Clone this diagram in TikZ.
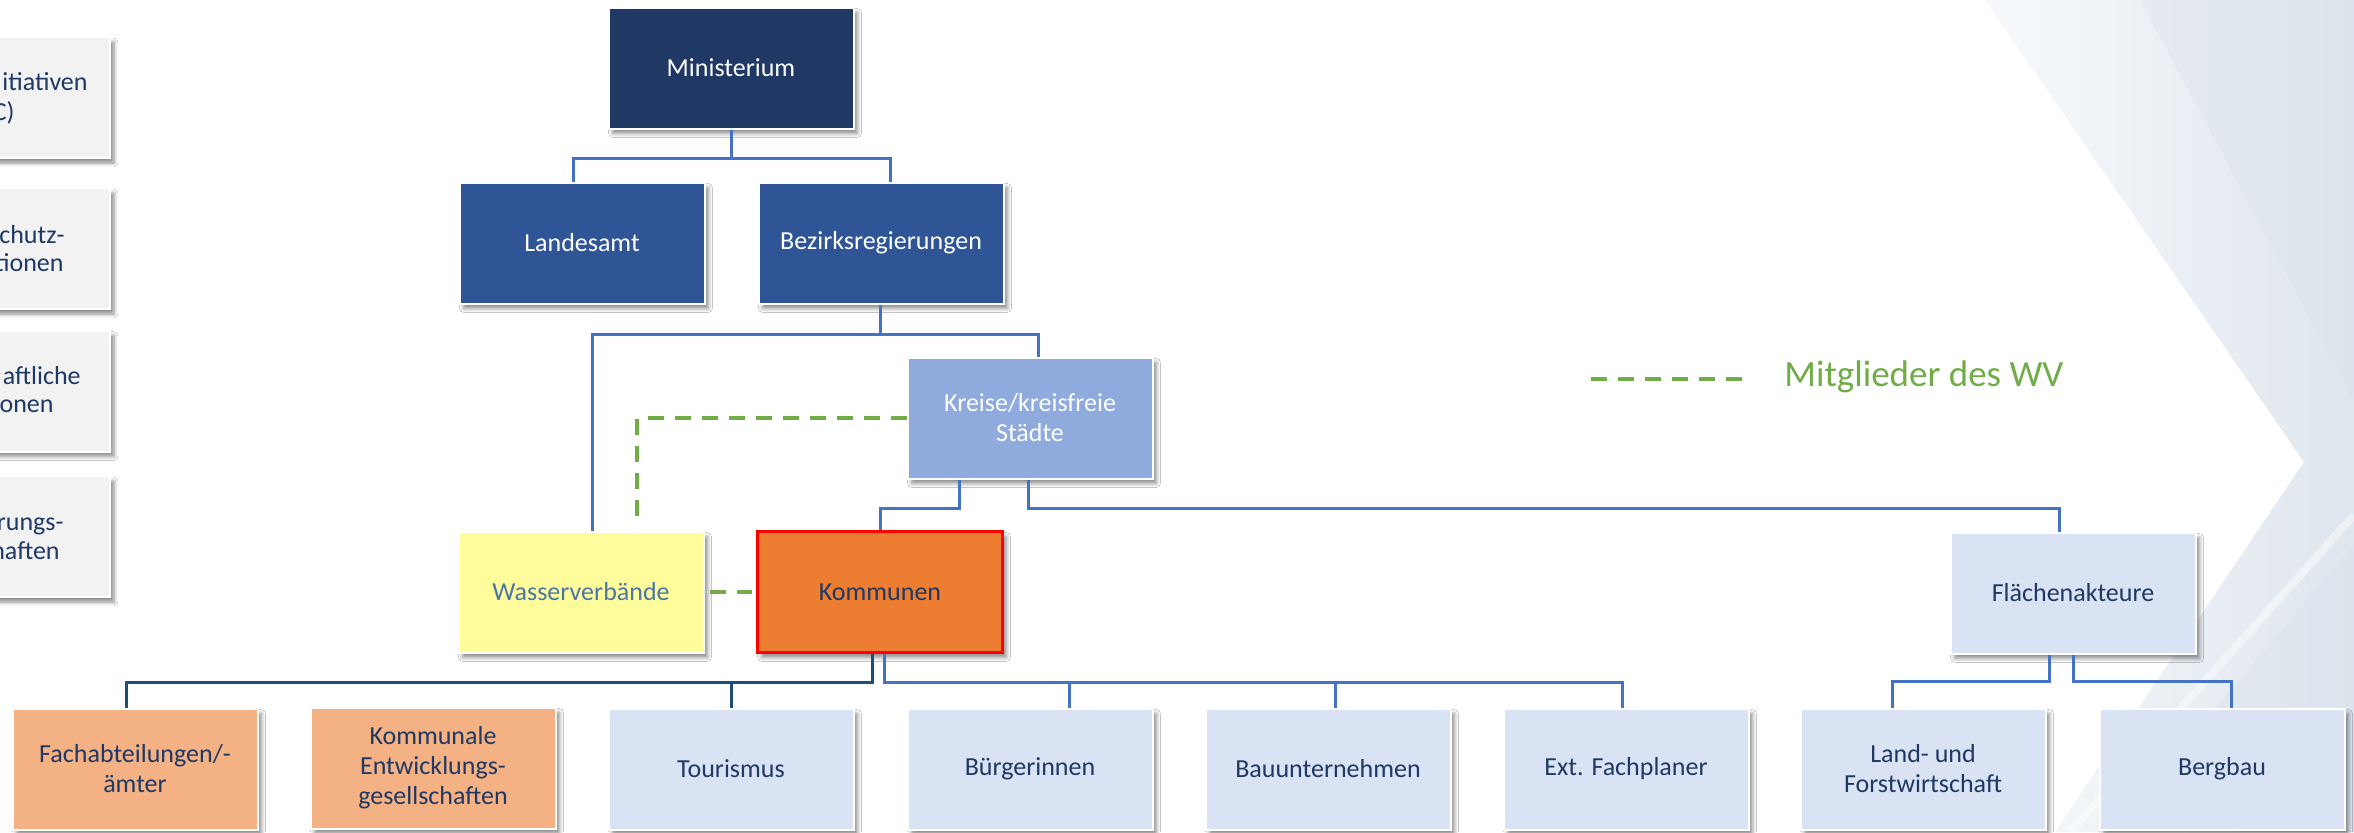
\documentclass[tikz,border=0pt]{standalone}
\usepackage{fontspec}
\setmainfont{Carlito}
\usetikzlibrary{calc,shadows,shadows.blur}
\definecolor{navyA}{HTML}{203864}
\definecolor{blueB}{HTML}{2F5597}
\definecolor{blueC}{HTML}{8FAADC}
\definecolor{paleD}{HTML}{DAE3F3}
\definecolor{orangeE}{HTML}{ED7D31}
\definecolor{peachF}{HTML}{F4B183}
\definecolor{yellowG}{HTML}{FFFD9B}
\definecolor{grayH}{HTML}{F2F2F2}
\definecolor{lineB}{HTML}{4472C4}
\definecolor{lineN}{HTML}{1F4E79}
\definecolor{greenW}{HTML}{70AD47}
\definecolor{txtN}{HTML}{1F3864}
\definecolor{txtW}{HTML}{4A76A8}
\definecolor{bgL}{HTML}{F7F9FB}
\definecolor{bgR}{HTML}{DFE6EE}
\definecolor{bgD}{HTML}{D8E0EA}
\tikzset{
  orgbox/.style={rectangle, minimum width=122.5pt, minimum height=60.5pt,
    inner sep=0pt, align=center, font=\fontsize{13pt}{15pt}\selectfont,
    draw=white, line width=1pt,
    blur shadow={shadow xshift=2pt, shadow yshift=-2.5pt, shadow blur steps=6, shadow opacity=45}},
  frag/.style={anchor=base east, inner sep=0pt, text=txtN, font=\fontsize{13pt}{15pt}\selectfont},
  conn/.style={draw=lineB, line width=1.5pt},
  connN/.style={draw=lineN, line width=1.5pt},
  wvline/.style={draw=greenW, line width=2.2pt, dash pattern=on 8pt off 5.5pt}
}
\begin{document}
\begin{tikzpicture}[x=0.5pt,y=-0.5pt]
\useasboundingbox (0,0) rectangle (2354,832);
\begin{scope}
\clip (0,0) rectangle (2354,832);
\fill[white] (0,0) rectangle (2354,832);
% background chevron
\shade[left color=bgL, right color=bgR] (1985,0) -- (2354,0) -- (2354,832) -- (2055,832) -- (2304,462) -- cycle;
\fill[bgD, opacity=0.35] (2140,0) -- (2354,0) -- (2354,400) -- cycle;
\fill[bgD, opacity=0.4] (2110,832) -- (2354,545) -- (2354,832) -- cycle;
\draw[white, opacity=0.45, line width=4pt] (2070,832) -- (2354,515);

% left cut-off boxes
\node[orgbox, fill=grayH] (l1) at (-12.5,97.5) {};
\node[orgbox, fill=grayH] (l2) at (-12.5,248.5) {};
\node[orgbox, fill=grayH] (l3) at (-12.5,391) {};
\node[orgbox, fill=grayH] (l4) at (-12.5,536.5) {};
\node[frag] (l1a) at (88,90) {itiativen};
\node[frag] (l1b) at (15,120) {C)};
\node[frag] (l2a) at (65,243) {chutz-};
\node[frag] (l2b) at (64,271) {tionen};
\node[frag] (l3a) at (81,384) {aftliche};
\node[frag] (l3b) at (54,412) {onen};
\node[frag] (l4a) at (64,530) {rungs-};
\node[frag] (l4b) at (60,559) {haften};

% hierarchy
\node[orgbox, fill=navyA, text=white] (min) at (731,68) {Ministerium};
\node[orgbox, fill=blueB, text=white] (land) at (582,243) {Landesamt};
\node[orgbox, fill=blueB, text=white] (bez) at (881,243) {Bezirksregierungen};
\node[orgbox, fill=blueC, text=white] (kreis) at (1030,418) {Kreise/kreisfreie\\Städte};
\node[orgbox, fill=yellowG, text=txtW] (wasser) at (581,592) {Wasserverbände};
\node[orgbox, fill=orangeE, text=txtN, draw=red, line width=1.5pt] (kom) at (880,592) {Kommunen};
\node[orgbox, fill=paleD, text=txtN] (flaeche) at (2073,593) {Flächenakteure};

\node[orgbox, fill=peachF, text=txtN] (fach) at (135,769) {Fachabteilungen/-\\ämter};
\node[orgbox, fill=peachF, text=txtN] (koment) at (433,768) {Kommunale\\Entwicklungs-\\gesellschaften};
\node[orgbox, fill=paleD, text=txtN] (tour) at (731,769) {Tourismus};
\node[orgbox, fill=paleD, text=txtN] (buerg) at (1030,769) {Bürgerinnen};
\node[orgbox, fill=paleD, text=txtN] (bau) at (1328,769) {Bauunternehmen};
\node[orgbox, fill=paleD, text=txtN] (ext) at (1626,769) {Ext. Fachplaner};
\node[orgbox, fill=paleD, text=txtN] (lf) at (1923,769) {Land- und\\Forstwirtschaft};
\node[orgbox, fill=paleD, text=txtN] (berg) at (2222,769) {Bergbau};

% connectors
\draw[conn] (min.south) -- ++(0,29) -| ([xshift=-4.5pt]land.north);
\draw[conn] (min.south) -- ++(0,29) -| ([xshift=4.5pt]bez.north);
\draw[conn] ([xshift=-0.5pt]bez.south) -- ++(0,30) -| ([xshift=5.5pt]wasser.north);
\draw[conn] ([xshift=-0.5pt]bez.south) -- ++(0,30) -| ([xshift=4pt]kreis.north);
\draw[conn] ([xshift=-35.5pt]kreis.south) -- ++(0,29) -| (kom.north);
\draw[conn] ([xshift=-1pt]kreis.south) -- ++(0,29) -| ([xshift=-7pt]flaeche.north);
\draw[connN] ([xshift=-4pt]kom.south) -- ++(0,28) -| ([xshift=-4.5pt]fach.north);
\draw[connN] (tour.north) -- ++(0,-25);
\draw[conn] ([xshift=2pt]kom.south) -- ++(0,28) -| ([xshift=-2pt]ext.north);
\draw[conn] ([xshift=19.5pt]buerg.north) -- ++(0,-26);
\draw[conn] ([xshift=3.5pt]bau.north) -- ++(0,-26);
\draw[conn] ([xshift=-12pt]flaeche.south) -- ++(0,27) -| ([xshift=-15.5pt]lf.north);
\draw[conn] (flaeche.south) -- ++(0,27) -| ([xshift=4.5pt]berg.north);

% membership (green dashed)
\draw[wvline] (kreis.west) -| ([xshift=28pt,yshift=7pt]wasser.north);
\draw[wvline, shorten <=2.5pt, shorten >=2pt] (wasser.east) -- (kom.west);

% legend
\coordinate (lg1) at (1591,379);
\coordinate (lg2) at (1747,379);
\draw[wvline] (lg1) -- (lg2);
\node[anchor=base west, inner sep=0pt, text=greenW, font=\fontsize{18.5pt}{22pt}\selectfont] (lgtext) at (1784,386) {Mitglieder des WV};
\end{scope}
\end{tikzpicture}
\end{document}
